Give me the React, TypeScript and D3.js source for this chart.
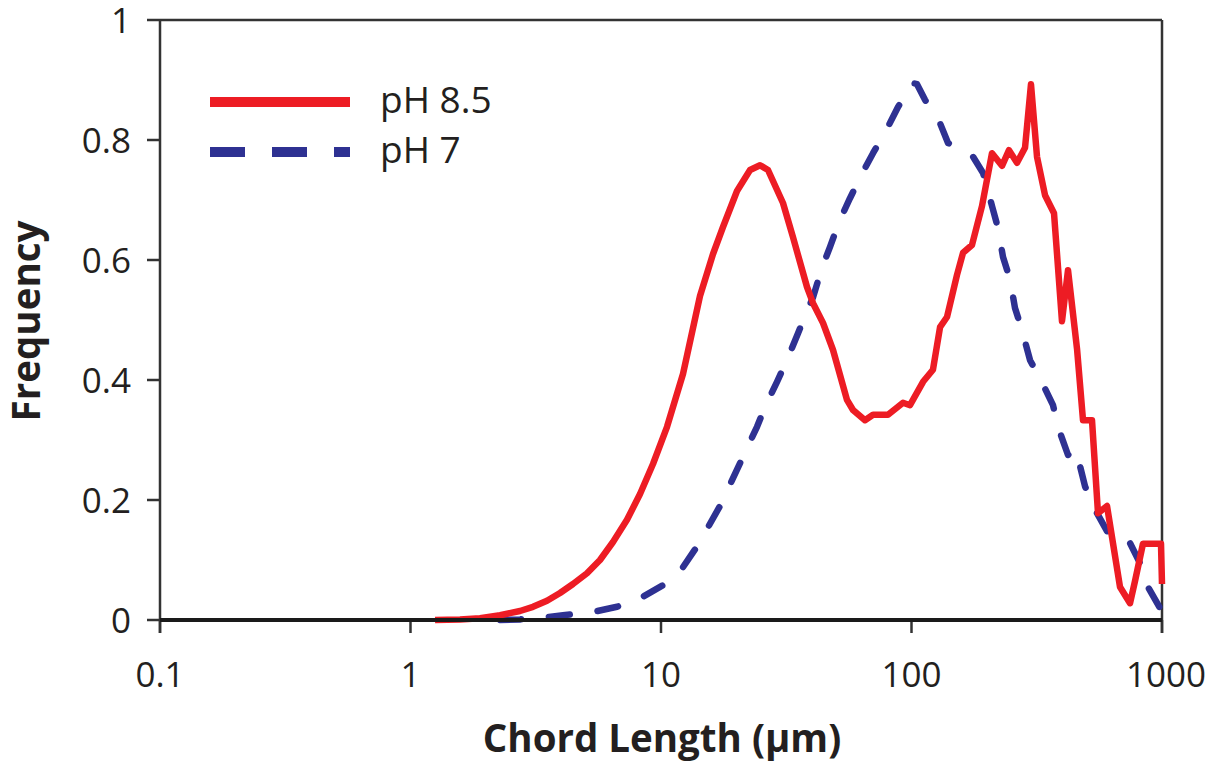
import React from "react";
import * as d3 from "d3";

// pH 8.5 series: [chord length (µm), frequency]
const ph85: [number, number][] = [
  [1.253, 0], [1.576, 0.001], [1.894, 0.003], [2.277, 0.008], [2.736, 0.015],
  [3.083, 0.022], [3.507, 0.032], [3.953, 0.045], [4.453, 0.06], [5.065, 0.078],
  [5.708, 0.1], [6.433, 0.13], [7.316, 0.167], [8.246, 0.21], [9.29, 0.26],
  [10.57, 0.322], [12.24, 0.41], [14.31, 0.54], [16.13, 0.61], [17.68, 0.655],
  [20.11, 0.715], [22.67, 0.75], [24.85, 0.758], [26.74, 0.75], [30.69, 0.695],
  [33.64, 0.638], [38.27, 0.555], [40.45, 0.528], [44.34, 0.495], [48.61, 0.45],
  [55.26, 0.367], [58.41, 0.35], [65.21, 0.333], [70.2, 0.342], [80.57, 0.342],
  [92.5, 0.362], [98.63, 0.358], [111.2, 0.397], [121.8, 0.417], [130.0, 0.488],
  [138.6, 0.505], [151.9, 0.575], [160.6, 0.612], [174.4, 0.625], [191.2, 0.69],
  [209.6, 0.778], [229.8, 0.757], [245.0, 0.783], [263.8, 0.762], [283.9, 0.787],
  [299.9, 0.893], [317.0, 0.772], [341.2, 0.708], [370.6, 0.678], [398.8, 0.498],
  [421.5, 0.583], [457.9, 0.452], [483.8, 0.333], [525.5, 0.333], [555.3, 0.178],
  [603.3, 0.19], [679.8, 0.055], [745.3, 0.028], [780.4, 0.065], [839.5, 0.127],
  [990.9, 0.127], [1000, 0.06],
];

// pH 7 series: [chord length (µm), frequency]
const ph7: [number, number][] = [
  [2.277, 0], [2.736, 0.001], [3.38, 0.004], [4.063, 0.008], [5.305, 0.013],
  [6.674, 0.022], [8.399, 0.038], [10.19, 0.058], [12.24, 0.088], [14.05, 0.125],
  [17.2, 0.19], [21.25, 0.272], [24.17, 0.322], [26.02, 0.355], [29.05, 0.397],
  [31.84, 0.433], [35.24, 0.478], [40.45, 0.538], [43.93, 0.587], [47.29, 0.622],
  [51.84, 0.667], [56.81, 0.703], [64.03, 0.747], [70.2, 0.778], [80.57, 0.822],
  [88.34, 0.855], [101.4, 0.895], [105.2, 0.893], [113.2, 0.867], [130.0, 0.828],
  [139.9, 0.795], [156.2, 0.785], [176.1, 0.772], [193.0, 0.745], [209.6, 0.69],
  [221.5, 0.653], [231.9, 0.605], [247.3, 0.568], [258.9, 0.52], [276.2, 0.483],
  [297.3, 0.433], [325.8, 0.403], [367.2, 0.358], [384.4, 0.322], [421.5, 0.275],
  [449.5, 0.285], [462.1, 0.27], [492.8, 0.223], [530.4, 0.19], [603.3, 0.148],
  [679.8, 0.146], [731.6, 0.135], [832.2, 0.088], [879.3, 0.055], [981.7, 0.02],
  [1000, 0],
];

const xTicks = [0.1, 1, 10, 100, 1000];
const xTickLabels = ["0.1", "1", "10", "100", "1000"];
const yTicks = [0, 0.2, 0.4, 0.6, 0.8, 1];
const yTickLabels = ["0", "0.2", "0.4", "0.6", "0.8", "1"];
const seriesNames = ["pH 8.5", "pH 7"];

const RED = "#ED1C24";
const BLUE = "#2E3192";
const FONT = "'Open Sans', 'DejaVu Sans', sans-serif";

export default function App() {
  const W = 1214;
  const H = 763;
  const left = 160, right = 1162, top = 20, bottom = 620;

  const x = d3.scaleLog().domain([0.1, 1000]).range([left, right]);
  const y = d3.scaleLinear().domain([0, 1]).range([bottom, top]);

  const line = d3
    .line<[number, number]>()
    .x((d) => x(d[0]))
    .y((d) => y(d[1]));

  return (
    <svg
      width={W}
      height={H}
      viewBox={`0 0 ${W} ${H}`}
      style={{ position: "absolute", left: 0, top: 0, background: "#fff", display: "block" }}
    >
      <rect x={0} y={0} width={W} height={H} fill="#fff" />

      {/* plot frame: top and right */}
      <line x1={left} x2={right} y1={top} y2={top} stroke="#333" strokeWidth={2.5} />
      <line x1={right} x2={right} y1={top} y2={bottom + 13} stroke="#333" strokeWidth={2.5} />

      {/* y axis */}
      <line x1={left} x2={left} y1={top} y2={bottom + 13} stroke="#333" strokeWidth={2.5} />
      {yTicks.map((t, i) => (
        <g key={"y" + i}>
          <line x1={left - 13} x2={left} y1={y(t)} y2={y(t)} stroke="#333" strokeWidth={2.5} />
          <text
            x={131}
            y={y(t) + 12.5}
            textAnchor="end"
            fontFamily={FONT}
            fontSize={35}
            fill="#231f20"
          >
            {yTickLabels[i]}
          </text>
        </g>
      ))}

      {/* x tick marks and labels */}
      {xTicks.map((t, i) => (
        <g key={"x" + i}>
          <line x1={x(t)} x2={x(t)} y1={bottom} y2={bottom + 13} stroke="#333" strokeWidth={2.5} />
          <text
            x={x(t) + (i === xTicks.length - 1 ? 4 : 0)}
            y={687}
            textAnchor="middle"
            fontFamily={FONT}
            fontSize={35}
            fill="#231f20"
          >
            {xTickLabels[i]}
          </text>
        </g>
      ))}

      {/* series */}
      <path
        d={line(ph7) || ""}
        fill="none"
        stroke={BLUE}
        strokeWidth={6.5}
        strokeDasharray="21 28"
        strokeLinecap="round"
        strokeLinejoin="round"
      />
      <path
        d={line(ph85) || ""}
        fill="none"
        stroke={RED}
        strokeWidth={6.5}
        strokeLinejoin="round"
      />

      {/* x axis line (thick) */}
      <line x1={left} x2={right} y1={bottom} y2={bottom} stroke="#1a1a1a" strokeWidth={4} />

      {/* axis titles */}
      <text
        x={662}
        y={752}
        textAnchor="middle"
        fontFamily={FONT}
        fontWeight="bold"
        fontSize={38.5}
        fill="#231f20"
      >
        Chord Length (μm)
      </text>
      <text
        transform="translate(40,321) rotate(-90)"
        textAnchor="middle"
        fontFamily={FONT}
        fontWeight="bold"
        fontSize={38.5}
        fill="#231f20"
      >
        Frequency
      </text>

      {/* legend */}
      <line x1={210} x2={350} y1={102} y2={102} stroke={RED} strokeWidth={10} />
      <text x={380} y={113} fontFamily={FONT} fontSize={37} fill="#231f20">
        {seriesNames[0]}
      </text>
      <line
        x1={210}
        x2={350}
        y1={152}
        y2={152}
        stroke={BLUE}
        strokeWidth={10}
        strokeDasharray="35 27"
      />
      <text x={380} y={163} fontFamily={FONT} fontSize={37} fill="#231f20">
        {seriesNames[1]}
      </text>
    </svg>
  );
}
